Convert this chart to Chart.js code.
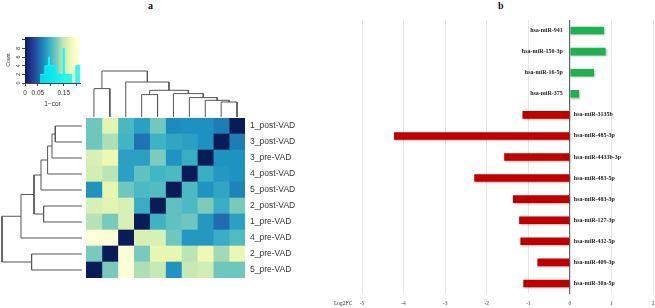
<!DOCTYPE html>
<html>
<head>
<meta charset="utf-8">
<script src="https://cdn.jsdelivr.net/npm/chart.js@4.4.0/dist/chart.umd.min.js"></script>
<style>
  html, body { margin: 0; padding: 0; background: #fff; }
  #wrap { position: relative; width: 655px; height: 308px; overflow: hidden; }
  #wrap canvas, #wrap .txt { position: absolute; }
  .panel { font: bold 10px "Liberation Serif", serif; color: #111; }
  .axlab { font: 5.5px "Liberation Serif", serif; color: #333; }
</style>
</head>
<body>
<div id="wrap">
  <div class="txt panel" style="left:148px;top:0px">a</div>
  <div class="txt panel" style="left:498px;top:0px">b</div>
  <canvas id="key" width="86" height="80" style="left:0;top:30px"></canvas>
  <canvas id="topDendro" width="159" height="57" style="left:86px;top:60px"></canvas>
  <canvas id="leftDendro" width="82" height="160" style="left:0;top:118px"></canvas>
  <canvas id="heat" width="234" height="160" style="left:86px;top:118px"></canvas>
  <canvas id="bars" width="325" height="308" style="left:330px;top:0"></canvas>
  <div class="txt axlab" style="left:334px;top:300px">Log2FC</div>
</div>
<script>
// ---- panel a: sample correlation heatmap (1 - cor) ----
const rowLabels = ['1_post-VAD', '3_post-VAD', '3_pre-VAD', '4_post-VAD', '5_post-VAD',
  '2_post-VAD', '1_pre-VAD', '4_pre-VAD', '2_pre-VAD', '5_pre-VAD'];
// columns run in the reverse order of the rows
const oneMinusCor = [
  [0.118, 0.168, 0.103, 0.085, 0.120, 0.072, 0.075, 0.075, 0.065, 0.000],
  [0.118, 0.141, 0.099, 0.060, 0.098, 0.089, 0.085, 0.075, 0.000, 0.065],
  [0.161, 0.175, 0.085, 0.085, 0.124, 0.077, 0.094, 0.000, 0.076, 0.076],
  [0.158, 0.146, 0.085, 0.112, 0.100, 0.104, 0.000, 0.094, 0.080, 0.076],
  [0.077, 0.171, 0.118, 0.104, 0.107, 0.000, 0.104, 0.077, 0.089, 0.068],
  [0.161, 0.168, 0.160, 0.094, 0.000, 0.112, 0.104, 0.124, 0.094, 0.122],
  [0.144, 0.122, 0.161, 0.000, 0.098, 0.112, 0.118, 0.080, 0.057, 0.085],
  [0.198, 0.198, 0.000, 0.161, 0.161, 0.118, 0.080, 0.080, 0.094, 0.107],
  [0.122, 0.000, 0.198, 0.122, 0.171, 0.171, 0.146, 0.178, 0.137, 0.173],
  [0.000, 0.122, 0.198, 0.141, 0.150, 0.077, 0.150, 0.157, 0.118, 0.118]
];

// hclust-style merges (negative = leaf) and merge heights
const colMerge = [[-1, -2], [-9, -10], [-8, 2], [-7, 3], [-6, 4], [-4, -5], [6, 5], [-3, 7], [1, 8]];
const colHeight = [28.4, 15, 16.7, 19.4, 23.4, 22.4, 26.7, 35, 46];
const rowMerge = [[-1, -2], [-3, 1], [-4, 2], [-5, 3], [-6, -7], [4, 5], [-8, 6], [-9, -10], [7, 8]];
const rowHeight = [26.7, 30, 34.4, 41, 38.4, 48, 61, 50.4, 80];

// colour key histogram
const histBreaks = [0.058, 0.077, 0.091, 0.095, 0.123, 0.148, 0.152, 0.181, 0.197, 0.213];
const histCounts = [2, 4, 6, 4, 2, 8, 2, 0, 4];
const keyTicks = [0, 0.05, 0.1, 0.15, 0.2];
const keyTickLabels = ['0', '0.05', '', '0.15', ''];
const countTicks = [0, 2, 4, 6, 8, 10];
const countTickLabels = ['0', '2', '4', '6', '8', ''];

// ---- panel b: log2 fold change ----
const mirnas = ['hsa-miR-941', 'hsa-miR-150-3p', 'hsa-miR-16-5p', 'hsa-miR-375', 'hsa-miR-3135b',
  'hsa-miR-485-3p', 'hsa-miR-4433b-3p', 'hsa-miR-483-5p', 'hsa-miR-483-3p', 'hsa-miR-127-3p',
  'hsa-miR-432-5p', 'hsa-miR-409-3p', 'hsa-miR-30a-5p'];
const log2fc = [0.82, 0.86, 0.58, 0.22, -1.14, -4.23, -1.58, -2.30, -1.37, -1.22, -1.19, -0.78, -1.12];

Chart.defaults.animation = false;
Chart.defaults.responsive = false;
Chart.defaults.devicePixelRatio = 1;
Chart.defaults.plugins.legend.display = false;
Chart.defaults.plugins.tooltip.enabled = false;
Chart.defaults.font.family = '"Liberation Sans", Arial, sans-serif';

const ylgnbu = ['#081d58', '#253494', '#225ea8', '#1d91c0', '#41b6c4', '#7fcdbb', '#c7e9b4', '#edf8b1', '#ffffd9'];
const keyMax = 0.2;

function hexRgb(h) {
  return [1, 3, 5].map(i => parseInt(h.slice(i, i + 2), 16));
}
function keyColor(v) {
  const t = Math.min(Math.max(v / keyMax, 0), 1) * 8;
  const i = Math.min(Math.floor(t), 7);
  const f = t - i;
  const a = hexRgb(ylgnbu[i]), b = hexRgb(ylgnbu[i + 1]);
  const c = a.map((x, k) => Math.round(x + (b[k] - x) * f));
  return `rgb(${c[0]},${c[1]},${c[2]})`;
}

function dendroSegments(merge, heights) {
  const nodes = [], segs = [];
  merge.forEach(([a, b], k) => {
    const pa = a < 0 ? { p: -a - 1, h: 0 } : nodes[a - 1];
    const pb = b < 0 ? { p: -b - 1, h: 0 } : nodes[b - 1];
    const h = heights[k];
    segs.push([[pa.p, pa.h], [pa.p, h], [pb.p, h], [pb.p, pb.h]]);
    nodes.push({ p: (pa.p + pb.p) / 2, h });
  });
  return segs;
}

const lineDs = pts => ({
  data: pts, showLine: true, borderColor: '#555', borderWidth: 1,
  pointRadius: 0, fill: false, clip: false
});
const hidden = { display: false };

// top dendrogram (columns)
new Chart(document.getElementById('topDendro'), {
  type: 'scatter',
  data: {
    datasets: dendroSegments(colMerge, colHeight)
      .map(s => lineDs(s.map(([p, h]) => ({ x: p, y: h }))))
  },
  options: {
    layout: { padding: 0 },
    scales: {
      x: { ...hidden, min: -0.5, max: 9.5 },
      y: { ...hidden, min: 0, max: 57 }
    }
  }
});

// left dendrogram (rows)
new Chart(document.getElementById('leftDendro'), {
  type: 'scatter',
  data: {
    datasets: dendroSegments(rowMerge, rowHeight)
      .map(s => lineDs(s.map(([p, h]) => ({ x: h, y: p }))))
  },
  options: {
    layout: { padding: 0 },
    scales: {
      x: { ...hidden, min: 0, max: 82, reverse: true },
      y: { ...hidden, min: -0.5, max: 9.5, reverse: true }
    }
  }
});

// heatmap as floating bars, one dataset per column
new Chart(document.getElementById('heat'), {
  type: 'bar',
  data: {
    labels: rowLabels,
    datasets: rowLabels.map((_, j) => ({
      data: rowLabels.map(() => [j, j + 1]),
      backgroundColor: oneMinusCor.map(row => keyColor(row[j])),
      borderWidth: 0,
      grouped: false,
      barPercentage: 1,
      categoryPercentage: 1
    }))
  },
  options: {
    indexAxis: 'y',
    layout: { padding: 0 },
    scales: {
      x: { ...hidden, min: 0, max: 10 },
      y: {
        type: 'category',
        position: 'right',
        grid: { display: false, drawTicks: false },
        border: { display: false },
        ticks: { color: '#333', font: { size: 8.5 }, padding: 5 },
        afterFit(s) { s.width = 75; s.paddingTop = 0; s.paddingBottom = 0; }
      }
    }
  }
});

// colour key with histogram
const keyBackground = {
  id: 'keyBackground',
  beforeDatasetsDraw(chart) {
    const { ctx, chartArea: a, scales: { x } } = chart;
    const g = ctx.createLinearGradient(x.getPixelForValue(0), 0, x.getPixelForValue(keyMax), 0);
    ylgnbu.forEach((c, i) => g.addColorStop(i / 8, c));
    ctx.save();
    ctx.fillStyle = g;
    ctx.fillRect(a.left, a.top, a.width, a.height);
    ctx.restore();
  }
};
new Chart(document.getElementById('key'), {
  type: 'line',
  data: {
    datasets: [{
      data: histBreaks.map((b, i) => ({ x: b, y: histCounts[Math.min(i, histCounts.length - 1)] })),
      stepped: true,
      fill: 'origin',
      backgroundColor: 'rgba(0,245,245,0.78)',
      borderColor: '#00ffff',
      borderWidth: 1,
      pointRadius: 0
    }]
  },
  options: {
    layout: { padding: { top: 7, right: 6, left: 0, bottom: 0 } },
    scales: {
      x: {
        type: 'linear', min: 0, max: 0.213,
        afterBuildTicks(s) { s.ticks = keyTicks.map(v => ({ value: v })); },
        ticks: {
          color: '#333', font: { size: 6.5 }, padding: 3, maxRotation: 0, autoSkip: false,
          callback: (v, i) => keyTickLabels[i]
        },
        grid: { drawOnChartArea: false, tickLength: 3, color: '#444' },
        border: { color: '#444' },
        title: { display: true, text: '1\u2212cor', color: '#333', font: { size: 6.5 }, padding: { top: 0, bottom: 2 } },
        afterFit(s) { s.height = 27; s.paddingLeft = 0; s.paddingRight = 0; }
      },
      y: {
        min: 0, max: 10.65,
        afterBuildTicks(s) { s.ticks = countTicks.map(v => ({ value: v })); },
        ticks: {
          color: '#333', font: { size: 5.5 }, padding: 2, autoSkip: false,
          minRotation: 90, maxRotation: 90, crossAlign: 'center',
          callback: (v, i) => countTickLabels[i]
        },
        grid: { drawOnChartArea: false, tickLength: 3, color: '#444' },
        border: { color: '#444' },
        title: { display: true, text: 'Count', color: '#333', font: { size: 5 }, padding: { top: 6, bottom: 0 } },
        afterFit(s) { s.width = 25; s.paddingTop = 0; s.paddingBottom = 0; }
      }
    }
  },
  plugins: [keyBackground]
});

// panel b bars
const barDecor = {
  id: 'barDecor',
  beforeDatasetsDraw(chart) {
    const ctx = chart.ctx;
    ctx.save();
    ctx.shadowColor = 'rgba(0,0,0,0.3)';
    ctx.shadowBlur = 2;
    ctx.shadowOffsetX = 1;
    ctx.shadowOffsetY = 1;
  },
  afterDatasetsDraw(chart) {
    const { ctx, scales: { x, y } } = chart;
    ctx.restore();
    const x0 = x.getPixelForValue(0);
    ctx.save();
    ctx.font = 'bold 6px "Liberation Serif", serif';
    ctx.fillStyle = '#222';
    ctx.textBaseline = 'middle';
    mirnas.forEach((name, i) => {
      const yy = y.getPixelForValue(i);
      if (log2fc[i] >= 0) {
        ctx.textAlign = 'right';
        ctx.fillText(name, x0 - 7, yy);
      } else {
        ctx.textAlign = 'left';
        ctx.fillText(name, x0 + 4, yy);
      }
    });
    ctx.restore();
  }
};

new Chart(document.getElementById('bars'), {
  type: 'bar',
  data: {
    labels: mirnas,
    datasets: [{
      data: log2fc,
      backgroundColor: c => (c.raw >= 0 ? '#1fb14f' : '#c00000'),
      barPercentage: 0.36,
      categoryPercentage: 1,
      borderWidth: 0
    }]
  },
  options: {
    indexAxis: 'y',
    layout: { padding: { left: 32, right: 2, top: 20, bottom: 0 } },
    scales: {
      x: {
        min: -5, max: 2,
        ticks: { stepSize: 1, color: '#444', font: { size: 5.5, family: '"Liberation Serif", serif' }, padding: 6 },
        grid: {
          drawTicks: false,
          color: c => (c.tick && c.tick.value === 0 ? '#666' : '#e6e6e6'),
          lineWidth: c => (c.tick && c.tick.value === 0 ? 1.2 : 1)
        },
        border: { display: false },
        afterFit(s) { s.height = 14; s.paddingLeft = 0; s.paddingRight = 0; }
      },
      y: { display: false }
    }
  },
  plugins: [barDecor]
});
</script>
</body>
</html>
